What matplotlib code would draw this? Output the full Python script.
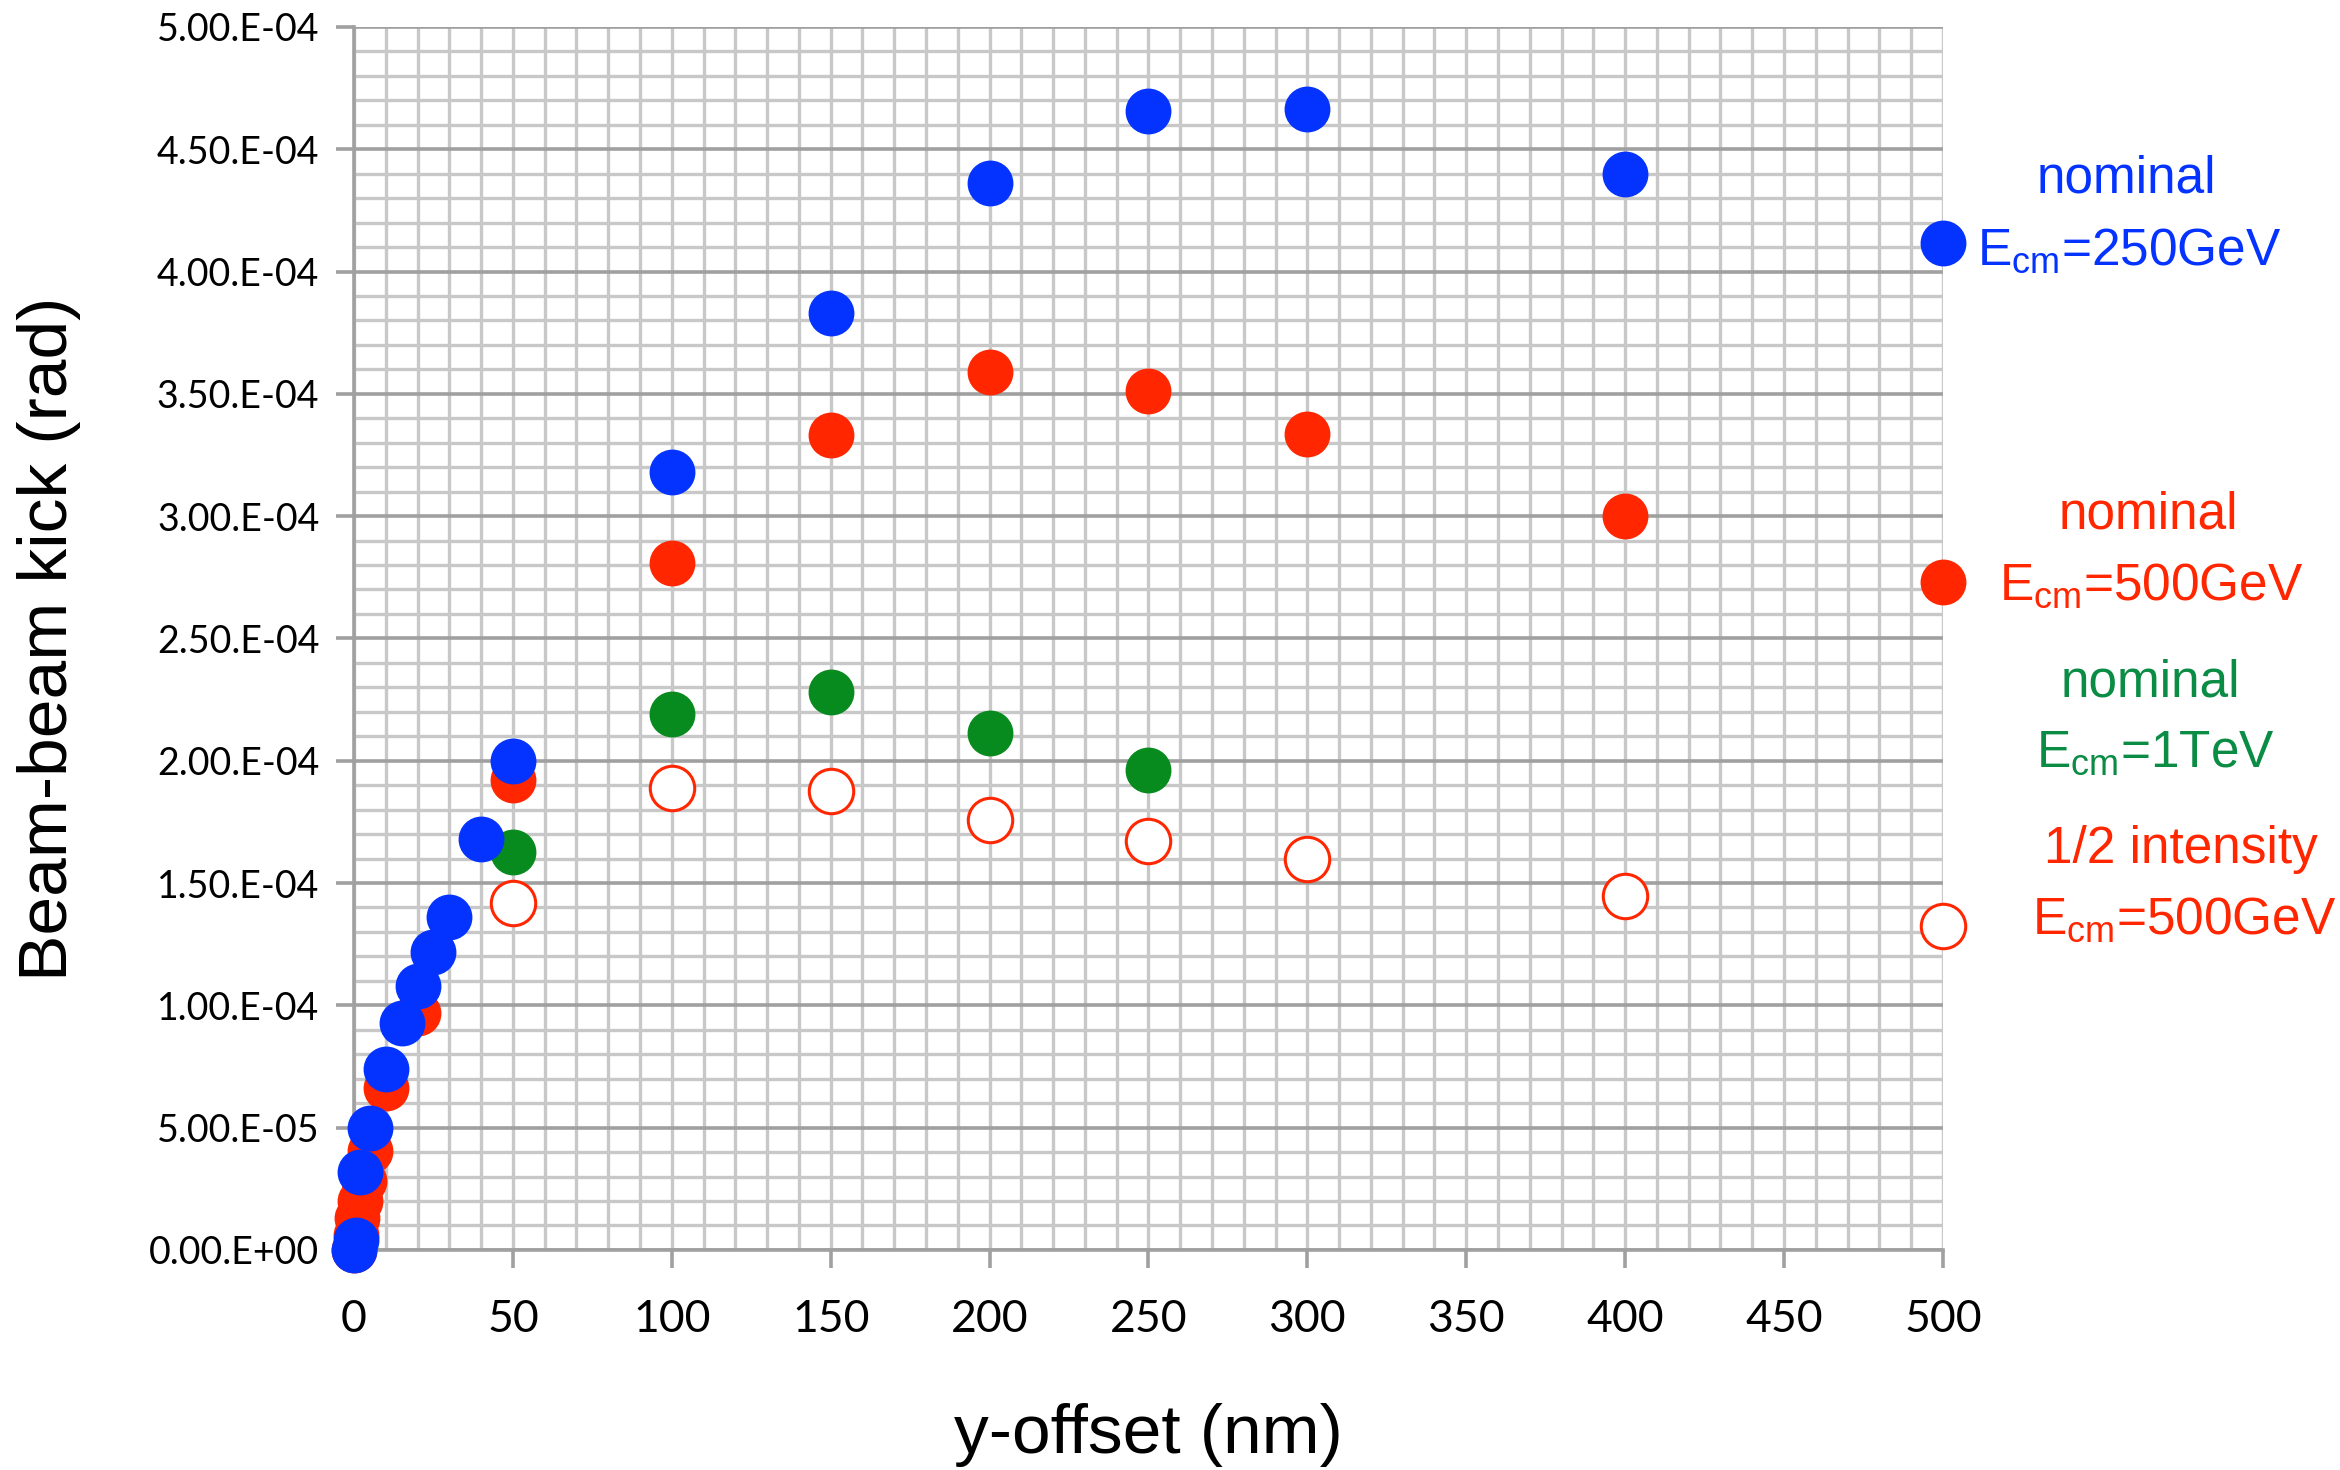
import numpy as np
import matplotlib.pyplot as plt
from matplotlib.ticker import MultipleLocator

# nominal, Ecm = 250 GeV
x_250 = [0, 0.5, 2, 5, 10, 15, 20, 25, 30, 40, 50, 100, 150, 200, 250, 300, 400, 500]
y_250 = [0.0, 4.0e-6, 3.18e-5, 5.0e-5, 7.4e-5, 9.27e-5, 1.078e-4, 1.22e-4, 1.363e-4,
         1.68e-4, 2.0e-4, 3.18e-4, 3.83e-4, 4.36e-4, 4.655e-4, 4.665e-4, 4.40e-4, 4.115e-4]

# nominal, Ecm = 500 GeV
x_500 = [0, 0.5, 1, 2, 3, 5, 10, 20, 50, 100, 150, 200, 250, 300, 400, 500]
y_500 = [0.0, 6.0e-6, 1.3e-5, 2.0e-5, 2.8e-5, 4.05e-5, 6.6e-5, 9.7e-5, 1.92e-4,
         2.81e-4, 3.33e-4, 3.59e-4, 3.51e-4, 3.335e-4, 3.0e-4, 2.73e-4]

# nominal, Ecm = 1 TeV
x_1t = [50, 100, 150, 200, 250]
y_1t = [1.625e-4, 2.19e-4, 2.28e-4, 2.115e-4, 1.963e-4]

# 1/2 intensity, Ecm = 500 GeV
x_half = [50, 100, 150, 200, 250, 300, 400, 500]
y_half = [1.42e-4, 1.89e-4, 1.878e-4, 1.756e-4, 1.67e-4, 1.598e-4, 1.445e-4, 1.323e-4]

y_ticks = np.arange(0, 5.01e-4, 5e-5)
y_ticklabels = ['0.00.E+00', '5.00.E-05', '1.00.E-04', '1.50.E-04', '2.00.E-04', '2.50.E-04',
                '3.00.E-04', '3.50.E-04', '4.00.E-04', '4.50.E-04', '5.00.E-04']

blue = '#0433ff'
red = '#ff2600'
green = '#078a1e'
green_txt = '#0a8c45'

fig = plt.figure(figsize=(23.4, 14.7), dpi=100)
ax = fig.add_axes([0.1513, 0.1497, 0.6790, 0.8320])

ms = 32
ax.plot(x_half, y_half, 'o', ms=ms, mfc='white', mec=red, mew=2.2, zorder=3, clip_on=False)
ax.plot(x_500, y_500, 'o', ms=ms, color=red, zorder=4, clip_on=False)
ax.plot(x_1t, y_1t, 'o', ms=ms, color=green, zorder=4, clip_on=False)
ax.plot(x_250, y_250, 'o', ms=ms, color=blue, zorder=5, clip_on=False)

ax.set_xlim(0, 500)
ax.set_ylim(0, 5e-4)

ax.xaxis.set_major_locator(MultipleLocator(50))
ax.xaxis.set_minor_locator(MultipleLocator(10))
ax.set_yticks(y_ticks)
ax.set_yticklabels(y_ticklabels)
ax.yaxis.set_minor_locator(MultipleLocator(1e-5))

ax.grid(which='minor', axis='both', color='#c8c8c8', lw=2.4, zorder=0)
ax.grid(which='major', axis='x', color='#c8c8c8', lw=2.4, zorder=0)
ax.grid(which='major', axis='y', color='#a0a0a0', lw=2.6, zorder=1)
ax.set_axisbelow(True)

for s in ['top', 'right']:
    ax.spines[s].set_visible(False)
for s in ['left', 'bottom']:
    ax.spines[s].set_color('#a0a0a0')
    ax.spines[s].set_linewidth(2.6)

ax.tick_params(which='major', direction='out', length=13, width=2.6, color='#a0a0a0')
ax.tick_params(which='minor', length=0)
ax.tick_params(axis='x', labelsize=32, pad=22)
ax.tick_params(axis='y', labelsize=27, pad=12)
for lab in ax.get_xticklabels() + ax.get_yticklabels():
    lab.set_family('Lato')

ax.set_xlabel('y-offset (nm)', fontsize=50, family='Liberation Sans', va='center')
ax.set_ylabel('Beam-beam kick (rad)', fontsize=50, family='Liberation Sans', va='center')
ax.xaxis.set_label_coords(0.5, -0.151)
ax.yaxis.set_label_coords(-0.192, 0.5)

fs = 37
kw = dict(transform=fig.transFigure, fontsize=fs, family='Liberation Sans', va='center')
fig.text(2126 / 2340, 1 - 179 / 1470, 'nominal', color=blue, ha='center', **kw)
fig.text(1977 / 2340, 1 - 251 / 1470, r'E$_\mathregular{cm}$=250GeV', color=blue, ha='left', **kw)
fig.text(2148 / 2340, 1 - 515 / 1470, 'nominal', color=red, ha='center', **kw)
fig.text(1999 / 2340, 1 - 586 / 1470, r'E$_\mathregular{cm}$=500GeV', color=red, ha='left', **kw)
fig.text(2150 / 2340, 1 - 683 / 1470, 'nominal', color=green_txt, ha='center', **kw)
fig.text(2036 / 2340, 1 - 753 / 1470, r'E$_\mathregular{cm}$=1TeV', color=green_txt, ha='left', **kw)
fig.text(2181 / 2340, 1 - 849 / 1470, '1/2 intensity', color=red, ha='center', **kw)
fig.text(2032 / 2340, 1 - 920 / 1470, r'E$_\mathregular{cm}$=500GeV', color=red, ha='left', **kw)

fig.savefig('out.png', dpi=100)
